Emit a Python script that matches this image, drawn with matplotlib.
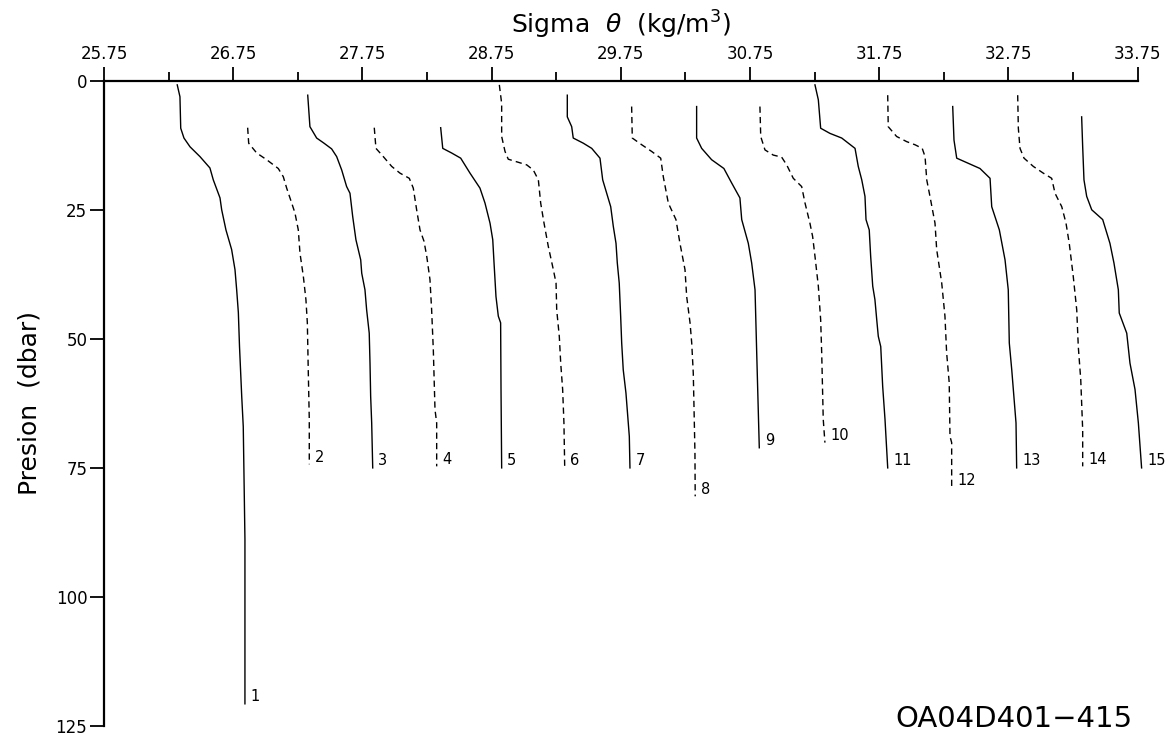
import matplotlib.pyplot as plt
import numpy as np

# sigma-theta profiles, stations 1..15 (real values, plot adds 0.5 per station)
d01 = [0.8, 3.1, 9.2, 11.1, 12.8, 14.7, 16.9, 19.2, 22.7, 25.0, 28.9, 32.7, 36.6, 40.5, 44.9, 51.5, 61.1, 67.0, 88.8, 120.7]
s01 = [26.317, 26.338, 26.344, 26.369, 26.416, 26.493, 26.570, 26.596, 26.648, 26.661, 26.694, 26.738, 26.764, 26.777, 26.790, 26.799, 26.816, 26.828, 26.841, 26.841]

d02 = [9.1, 12.1, 14.0, 15.3, 17.0, 18.6, 20.8, 23.7, 25.6, 28.9, 33.4, 37.9, 42.4, 46.9, 56.0, 65.6, 74.3]
s02 = [26.362, 26.370, 26.432, 26.509, 26.599, 26.638, 26.664, 26.703, 26.728, 26.754, 26.767, 26.793, 26.813, 26.824, 26.831, 26.839, 26.839]

d03 = [2.8, 8.9, 11.1, 12.1, 13.2, 14.7, 17.3, 20.5, 21.8, 26.3, 30.8, 34.7, 37.3, 40.5, 44.4, 48.9, 54.7, 61.1, 66.3, 75.0]
s03 = [26.327, 26.344, 26.396, 26.453, 26.512, 26.551, 26.590, 26.628, 26.654, 26.675, 26.700, 26.737, 26.745, 26.770, 26.783, 26.803, 26.809, 26.814, 26.822, 26.830]

d04 = [9.1, 13.1, 14.7, 16.6, 17.9, 18.9, 20.8, 25.0, 28.9, 31.1, 34.0, 38.5, 44.4, 52.1, 63.7, 66.3, 74.7]
s04 = [26.342, 26.355, 26.412, 26.477, 26.541, 26.613, 26.644, 26.670, 26.696, 26.727, 26.748, 26.773, 26.786, 26.799, 26.812, 26.825, 26.825]

d05 = [9.1, 13.1, 14.0, 15.0, 17.9, 20.8, 23.7, 27.6, 30.8, 35.3, 41.8, 45.6, 46.9, 59.8, 75.0]
s05 = [26.356, 26.372, 26.441, 26.511, 26.583, 26.660, 26.699, 26.738, 26.759, 26.769, 26.784, 26.802, 26.820, 26.823, 26.828]

d06 = [0.8, 4.4, 10.8, 13.7, 15.2, 15.7, 16.3, 17.3, 19.2, 23.7, 27.6, 32.1, 36.6, 39.2, 44.4, 49.5, 54.7, 59.8, 66.3, 75.0]
s06 = [26.310, 26.328, 26.328, 26.354, 26.379, 26.444, 26.522, 26.573, 26.612, 26.630, 26.656, 26.689, 26.728, 26.749, 26.754, 26.774, 26.785, 26.800, 26.810, 26.816]

d07 = [2.8, 7.0, 8.9, 11.1, 12.1, 13.1, 15.0, 19.2, 21.8, 24.4, 28.2, 31.5, 35.3, 39.2, 45.6, 50.8, 56.0, 60.5, 68.9, 75.0]
s07 = [26.336, 26.336, 26.370, 26.382, 26.460, 26.525, 26.589, 26.610, 26.641, 26.672, 26.692, 26.713, 26.723, 26.738, 26.749, 26.757, 26.769, 26.790, 26.816, 26.821]

d08 = [5.0, 11.1, 12.4, 13.7, 15.0, 18.6, 23.7, 26.9, 31.5, 36.6, 41.8, 46.9, 50.8, 56.6, 62.4, 72.1, 80.5]
s08 = [26.334, 26.339, 26.412, 26.489, 26.559, 26.579, 26.618, 26.677, 26.708, 26.747, 26.760, 26.786, 26.799, 26.811, 26.816, 26.824, 26.826]

d09 = [5.0, 11.1, 13.1, 15.3, 17.0, 19.8, 22.7, 26.9, 31.5, 35.3, 40.5, 52.7, 71.1]
s09 = [26.337, 26.337, 26.376, 26.453, 26.548, 26.608, 26.672, 26.686, 26.737, 26.763, 26.789, 26.802, 26.822]

d10 = [5.0, 10.8, 13.4, 14.4, 14.8, 16.3, 18.9, 20.5, 23.7, 27.6, 30.2, 34.0, 39.8, 46.3, 52.7, 65.6, 70.1]
s10 = [26.327, 26.333, 26.366, 26.430, 26.495, 26.534, 26.585, 26.650, 26.676, 26.714, 26.735, 26.753, 26.779, 26.797, 26.805, 26.817, 26.830]

d11 = [0.8, 3.7, 9.2, 10.2, 11.1, 13.1, 16.6, 19.2, 22.4, 26.9, 28.9, 34.0, 39.8, 42.4, 46.3, 49.5, 51.5, 59.2, 65.6, 69.2, 75.0]
s11 = [26.253, 26.279, 26.297, 26.369, 26.460, 26.563, 26.588, 26.615, 26.640, 26.648, 26.673, 26.684, 26.700, 26.717, 26.731, 26.743, 26.762, 26.777, 26.795, 26.803, 26.816]

d12 = [2.8, 8.9, 10.8, 11.8, 12.4, 13.1, 14.7, 19.2, 22.4, 27.6, 32.7, 39.2, 45.6, 52.7, 58.5, 68.9, 70.1, 78.8]
s12 = [26.316, 26.320, 26.385, 26.463, 26.527, 26.583, 26.605, 26.618, 26.643, 26.682, 26.695, 26.734, 26.759, 26.772, 26.792, 26.798, 26.811, 26.811]

d13 = [5.0, 11.5, 15.0, 16.0, 17.0, 18.9, 24.4, 28.9, 34.7, 40.5, 50.8, 56.0, 66.3, 75.0]
s13 = [26.319, 26.329, 26.350, 26.440, 26.530, 26.608, 26.621, 26.680, 26.724, 26.749, 26.757, 26.776, 26.809, 26.814]

d14 = [2.8, 9.2, 13.1, 15.0, 16.6, 17.9, 18.9, 21.8, 24.4, 27.6, 31.5, 37.9, 44.4, 51.5, 57.9, 67.6, 74.7]
s14 = [26.322, 26.327, 26.340, 26.371, 26.443, 26.520, 26.585, 26.611, 26.663, 26.696, 26.721, 26.752, 26.779, 26.791, 26.810, 26.825, 26.825]

d15 = [7.0, 12.8, 19.2, 22.4, 25.0, 26.9, 31.5, 35.3, 40.5, 45.0, 48.9, 54.7, 59.8, 66.3, 75.0]
s15 = [26.317, 26.325, 26.335, 26.356, 26.395, 26.480, 26.536, 26.567, 26.601, 26.608, 26.666, 26.691, 26.730, 26.756, 26.781]

depths = [d01, d02, d03, d04, d05, d06, d07, d08, d09, d10, d11, d12, d13, d14, d15]
sigmas = [s01, s02, s03, s04, s05, s06, s07, s08, s09, s10, s11, s12, s13, s14, s15]
stations = [1, 2, 3, 4, 5, 6, 7, 8, 9, 10, 11, 12, 13, 14, 15]

x_major = [25.75, 26.75, 27.75, 28.75, 29.75, 30.75, 31.75, 32.75, 33.75]
y_ticks = [0, 25, 50, 75, 100, 125]

plt.rcParams['font.family'] = 'DejaVu Sans'

fig = plt.figure(figsize=(11.67, 7.40), dpi=100)
ax = fig.add_axes([0.0891, 0.0189, 0.8857, 0.872])

for i in range(len(stations)):
    off = 0.5 * i
    x = np.array(sigmas[i]) + off
    y = np.array(depths[i])
    ls = '-' if i % 2 == 0 else (0, (4.5, 3))
    ax.plot(x, y, color='black', lw=1.0, linestyle=ls, clip_on=False)
    ax.annotate(str(stations[i]), (x[-1], y[-1]), xytext=(4, 5),
                textcoords='offset points', fontsize=10.5, ha='left', va='center',
                annotation_clip=False)

ax.set_xlim(25.75, 33.75)
ax.set_ylim(125, 0)

ax.xaxis.tick_top()
ax.xaxis.set_label_position('top')
ax.set_xticks(x_major)
ax.set_xticks(np.arange(26.25, 33.5, 1.0), minor=True)
ax.set_yticks(y_ticks)

ax.tick_params(axis='x', which='major', direction='out', length=10, width=1.3,
               labelsize=12, pad=3)
ax.tick_params(axis='x', which='minor', direction='out', length=6.5, width=1.3)
ax.tick_params(axis='y', direction='out', length=10, width=1.3, labelsize=12, pad=2)

for side in ['right', 'bottom']:
    ax.spines[side].set_visible(False)
for side in ['left', 'top']:
    ax.spines[side].set_linewidth(1.6)

ax.set_xlabel(r'Sigma  $\theta$  (kg/m$^3$)', fontsize=18, labelpad=8)
ax.set_ylabel('Presion  (dbar)', fontsize=18, labelpad=10)

fig.text(0.9705, 0.028, 'OA04D401\u2212415', fontsize=21, ha='right', va='center')

fig.savefig('out.png', dpi=100)
